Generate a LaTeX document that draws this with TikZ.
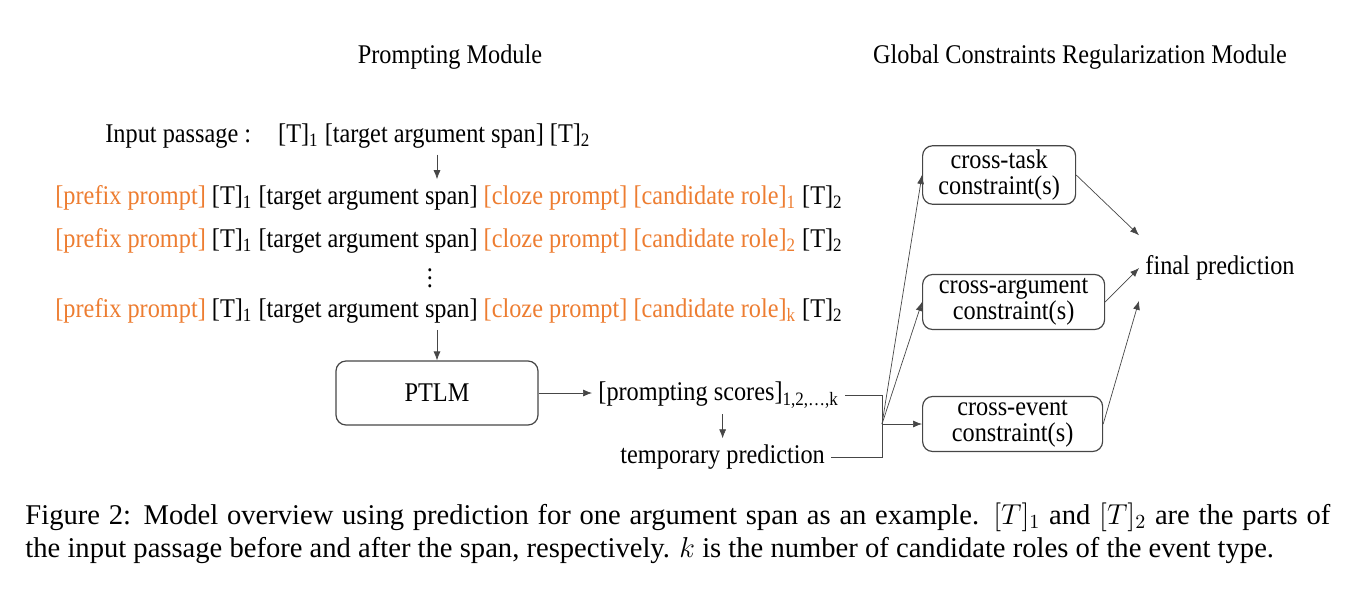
\documentclass[tikz,border=0pt]{standalone}
\usepackage{fontspec}
\setmainfont{Liberation Serif}
\newfontfamily\diagfont[FakeStretch=0.9]{Liberation Serif}
\usetikzlibrary{arrows.meta}

\definecolor{promptorange}{RGB}{237,125,49}
\definecolor{linegray}{RGB}{70,70,70}
\newcommand{\pr}[1]{\textcolor{promptorange}{#1}}

\tikzset{
  txt/.style={font=\diagfont\fontsize{13.5}{16}\selectfont, inner sep=3pt},
  cbox/.style={font=\diagfont\fontsize{13.5}{13}\selectfont, draw=linegray, line width=0.6pt,
    rounded corners=5pt, align=center, minimum height=27.5pt, inner xsep=6pt, inner ysep=2pt},
  arr/.style={-{Latex[length=4.5pt,width=3.5pt]}, line width=0.35pt, linegray},
  wire/.style={line width=0.35pt, linegray},
  captxt/.style={font=\fontsize{14.3}{17}\selectfont, inner sep=0pt},
}

\begin{document}
\begin{tikzpicture}[x=0.5pt,y=-0.5pt]
  \useasboundingbox (0,0) rectangle (1364,611);
  % module titles
  \node[txt] (ptitle) at (450,57) {Prompting Module};
  \node[txt] (gtitle) at (1080,57) {Global Constraints Regularization Module};

  % prompting module
  \node[txt,anchor=west] (inp) at (99,136) {Input passage :\quad [T]\textsubscript{1} [target argument span] [T]\textsubscript{2}};
  \node[txt,anchor=west] (l1) at (49,198) {\pr{[prefix prompt]} [T]\textsubscript{1} [target argument span] \pr{[cloze prompt] [candidate role]\textsubscript{1}} [T]\textsubscript{2}};
  \node[txt,anchor=west] (l2) at (49,241) {\pr{[prefix prompt]} [T]\textsubscript{1} [target argument span] \pr{[cloze prompt] [candidate role]\textsubscript{2}} [T]\textsubscript{2}};
  \node[txt] (dots) at (430,272) {$\vdots$};
  \node[txt,anchor=west] (lk) at (49,311) {\pr{[prefix prompt]} [T]\textsubscript{1} [target argument span] \pr{[cloze prompt] [candidate role]\textsubscript{k}} [T]\textsubscript{2}};
  \node[cbox,minimum width=101pt,minimum height=32pt] (ptlm) at (437,393) {PTLM};
  \node[txt,anchor=west] (scores) at (592,395) {[prompting scores]\textsubscript{1,2,\ldots,k}};
  \node[txt,anchor=west] (temp) at (614,457) {temporary prediction};
  \coordinate (split) at (882,424);

  % constraints module
  \node[cbox,anchor=west,minimum width=76.5pt] (task) at (922,175) {cross-task\\constraint(s)};
  \node[cbox,anchor=west,minimum width=91pt] (arg) at (922,302) {cross-argument\\constraint(s)};
  \node[cbox,anchor=west,minimum width=90pt] (event) at (922,424) {cross-event\\constraint(s)};
  \node[txt,inner ysep=10pt,anchor=west] (final) at (1139,268) {final prediction};

  % connectors
  \draw[arr] (inp.south -| ptlm.north) -- (l1.north -| ptlm.north);
  \draw[arr] (lk.south -| ptlm.north) -- (ptlm.north);
  \draw[arr] (ptlm.east) -- (ptlm.east -| scores.west);
  \draw[arr] (scores.south -| temp.north) -- (temp.north);
  \draw[wire] (scores.east) -- (scores.east -| split) -- (temp.east -| split) -- (temp.east);
  \foreach \c in {task,arg,event}
    \draw[arr] (split) -- (\c.west);
  \draw[arr] (task.east) -- (final.north west);
  \draw[arr] (arg.east) -- (final.west);
  \draw[arr] (event.east) -- (final.south west);

  % caption
  \node[captxt,anchor=west] (cap1) at (25,517) {\makebox[652.5pt][s]{Figure 2: Model overview using prediction for one argument span as an example. $[T]_1$ and $[T]_2$ are the parts of}};
  \node[captxt,anchor=west] (cap2) at (25,551) {the input passage before and after the span, respectively. $k$ is the number of candidate roles of the event type.};
\end{tikzpicture}
\end{document}
